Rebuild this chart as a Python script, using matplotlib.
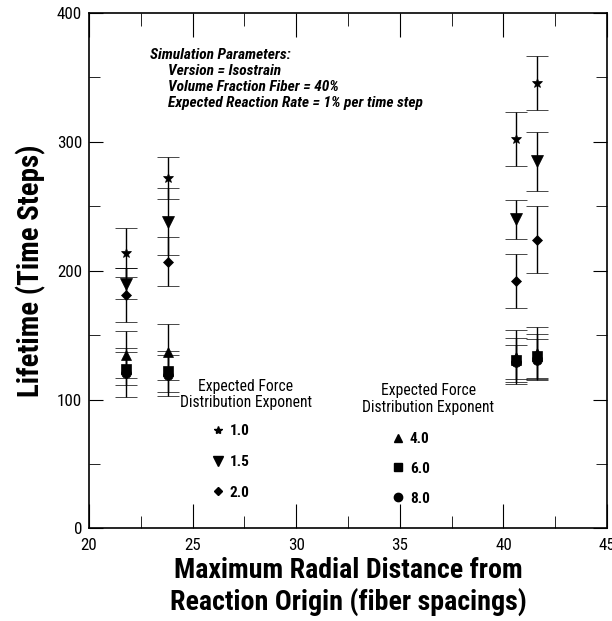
import numpy as np
import matplotlib
matplotlib.use("Agg")
import matplotlib.pyplot as plt
from matplotlib import font_manager
from matplotlib.lines import Line2D
from matplotlib.ticker import MultipleLocator

# the original uses a narrow bold sans; take the first narrow face with a bold cut
have = {}
for f in font_manager.fontManager.ttflist:
    have.setdefault(f.name, set()).add(f.weight)
prefs = ["Liberation Sans Narrow", "Arial Narrow", "Nimbus Sans Narrow",
         "Roboto Condensed", "Open Sans Condensed", "Asap Condensed",
         "Barlow Semi Condensed"]
FAM = next((n for n in prefs if n in have and (700 in have[n] or "bold" in have[n])),
           "Liberation Sans")
plt.rcParams['font.family'] = [FAM, "Liberation Sans", "DejaVu Sans"]

# radial distance of each run group
dist = [21.8, 23.8, 40.6, 41.6]

# lifetime per force distribution exponent and its error
exps = ["1.0", "1.5", "2.0", "4.0", "6.0", "8.0"]
marks = ["*", "v", "D", "^", "s", "o"]
msizes = [7, 8, 5, 7, 7, 7]
life_10 = [214, 272, 302, 346]
err_10 = [19, 16, 21, 21]
life_15 = [190, 238, 240, 285]
err_15 = [12, 26, 15, 23]
life_20 = [181, 207, 192, 224]
err_20 = [21, 19, 21, 26]
life_40 = [135, 137, 133, 136]
err_40 = [18, 22, 21, 20]
life_60 = [124, 122, 131, 134]
err_60 = [13, 16, 17, 17]
life_80 = [121, 119, 129, 131]
err_80 = [19, 16, 13, 16]

lifes = [life_10, life_15, life_20, life_40, life_60, life_80]
errs = [err_10, err_15, err_20, err_40, err_60, err_80]

params = ["Version = Isostrain", "Volume Fraction Fiber = 40%",
          "Expected Reaction Rate = 1% per time step"]
xlab = "Maximum Radial Distance from\nReaction Origin (fiber spacings)"
ylab = "Lifetime (Time Steps)"
ttl = "Expected Force\nDistribution Exponent"

fig = plt.figure(figsize=(6.12, 6.21), dpi=100)
ax = fig.add_axes([0.1454, 0.149, 0.8466, 0.830])
rend = fig.canvas.get_renderer()

def fit_size(s, width_px, **kw):
    # font size that gives the text the width it has in the original
    t = fig.text(0, 0, s, fontsize=10, **kw)
    w = t.get_window_extent(rend).width
    t.remove()
    return 10 * width_px / w

for lf, er, mk, ms in zip(lifes, errs, marks, msizes):
    ax.errorbar(dist, lf, yerr=er, fmt=mk, color="k", ms=ms, capsize=8,
                elinewidth=1, capthick=1.2, markeredgewidth=0.5)

ax.set_xlim(20, 45)
ax.set_ylim(0, 400)
ax.xaxis.set_major_locator(MultipleLocator(5))
ax.xaxis.set_minor_locator(MultipleLocator(2.5))
ax.yaxis.set_major_locator(MultipleLocator(100))
ax.yaxis.set_minor_locator(MultipleLocator(50))
tk = fit_size("300", 25)
ax.tick_params(which="both", direction="in", top=True, right=True, labelsize=tk)
ax.tick_params(axis="x", which="major", length=17, pad=7)
ax.tick_params(axis="x", which="minor", length=9)
ax.tick_params(axis="y", which="major", length=10, pad=5)
ax.tick_params(axis="y", which="minor", length=8)
for s in ax.spines.values():
    s.set_linewidth(1.2)

xs = fit_size("Maximum Radial Distance from", 349, fontweight="bold")
ys = fit_size(ylab, 252, fontweight="bold")
ax.set_xlabel(xlab, fontsize=xs, fontweight="bold", labelpad=3, linespacing=1.15)
ax.set_ylabel(ylab, fontsize=ys, fontweight="bold", labelpad=8)

ps = fit_size(params[2], 256, fontweight="bold", style="italic")
ax.text(0.118, 0.918, "Simulation Parameters:", transform=ax.transAxes,
        fontsize=ps, fontweight="bold", style="italic", va="center")
for i, p in enumerate(params):
    ax.text(0.153, 0.887 - i * 0.031, p, transform=ax.transAxes,
            fontsize=ps, fontweight="bold", style="italic", va="center")

# legend titles, centred lines as in the original
ts = fit_size("Distribution Exponent", 132)
ax.text(0.303, 0.260, ttl, transform=ax.transAxes, fontsize=ts, ha="center",
        va="center", multialignment="center", linespacing=1.15)
ax.text(0.655, 0.2515, ttl, transform=ax.transAxes, fontsize=ts, ha="center",
        va="center", multialignment="center", linespacing=1.15)

def handles(idx):
    return [Line2D([], [], ls="none", marker=marks[i], color="k",
                   ms=msizes[i] - 1) for i in idx]

es = fit_size("1.0", 20, fontweight="bold")
leg1 = ax.legend(handles([0, 1, 2]), exps[:3], frameon=False,
                 loc="upper left", bbox_to_anchor=(0.2336, 0.2025),
                 borderaxespad=0, borderpad=0, fontsize=es, labelspacing=1.1,
                 handletextpad=0.3, handlelength=1.0)
for t in leg1.get_texts():
    t.set_fontweight("bold")
ax.add_artist(leg1)
leg2 = ax.legend(handles([3, 4, 5]), exps[3:], frameon=False,
                 loc="upper left", bbox_to_anchor=(0.581, 0.1875),
                 borderaxespad=0, borderpad=0, fontsize=es, labelspacing=1.05,
                 handletextpad=0.3, handlelength=1.0)
for t in leg2.get_texts():
    t.set_fontweight("bold")

fig.savefig("out.png", dpi=100)
